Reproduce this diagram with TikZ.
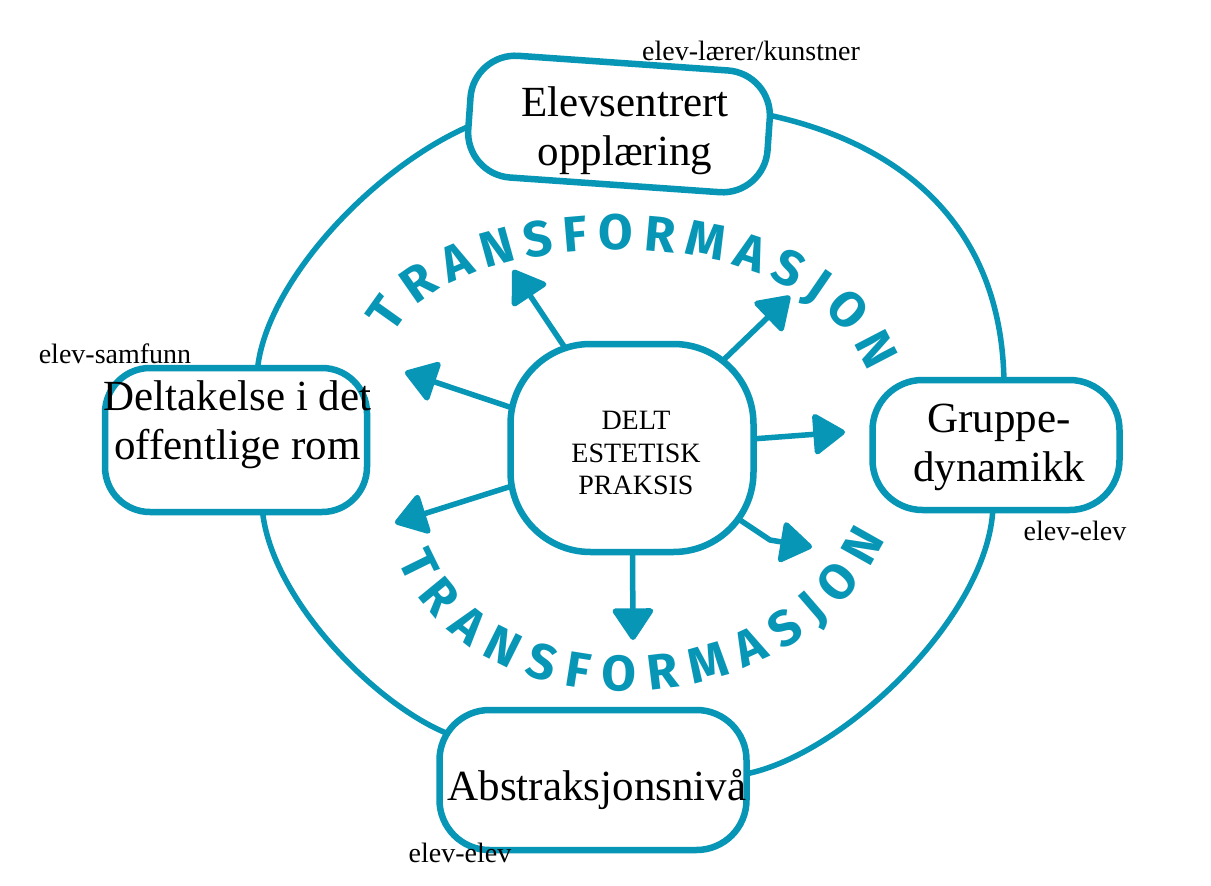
\documentclass[tikz,border=0pt]{standalone}
\usepackage{fontspec}
\setmainfont{Liberation Serif}
\newfontfamily\handfont{Fira Sans}
\usetikzlibrary{arrows.meta,decorations.text}
\definecolor{marker}{RGB}{8,150,182}
\pgfdeclarelayer{background}
\pgfdeclarelayer{paper}
\pgfsetlayers{paper,background,main}
\begin{document}
\begin{tikzpicture}[x=1pt,y=-1pt,
  box/.style={draw=marker, line width=6.5pt, fill=white, rounded corners=45pt, inner sep=0pt},
  bigtxt/.style={font=\fontsize{43}{49}\selectfont, align=center, inner sep=0pt},
  midtxt/.style={font=\fontsize{28}{32.5}\selectfont, align=center, inner sep=0pt},
  lbl/.style={font=\fontsize{28}{32}\selectfont, inner sep=0pt, anchor=base},
  ring/.style={draw=marker, line width=5.5pt, line cap=round},
  arr/.style={draw=marker, line width=5.5pt, line cap=round, line join=round,
    -{Triangle[length=34pt,width=44pt,round]}},
  hand/.style={decorate, decoration={text along path, text align={fit to path},
    text={|\handfont\bfseries\fontsize{50}{50}\selectfont\color{marker}|TRANSFORMASJON}}}
]
\useasboundingbox (0,0) rectangle (1211,886);
\begin{pgfonlayer}{paper}
  \fill[white] (0,0) rectangle (1211,886);
\end{pgfonlayer}

% outer stations
\node[box, minimum width=300pt, minimum height=122pt, rotate=-4] (top) at (619,124) {};
\node[box, minimum width=262pt, minimum height=144pt] (left) at (236,440) {};
\node[box, minimum width=247pt, minimum height=130pt, rounded corners=50pt] (right) at (996,445) {};
\node[box, minimum width=307pt, minimum height=140pt, rounded corners=50pt] (bottom) at (593,780) {};

% centre
\node[box, minimum width=243pt, minimum height=208pt, rounded corners=80pt] (c) at (632,448) {};

% texts
\node[bigtxt] (toptxt) at (625,130.5) {Elevsentrert\\opplæring};
\node[bigtxt] (lefttxt) at (237.5,424.5) {Deltakelse i det\\offentlige rom};
\node[bigtxt] (righttxt) at (999,447.7) {Gruppe-\\dynamikk};
\node[bigtxt, anchor=base] (bottxt) at (597,800) {Abstraksjonsnivå};
\node[midtxt] (ctxt) at (636,453) {DELT\\ESTETISK\\PRAKSIS};

\node[lbl] (l1) at (751,60) {elev-lærer/kunstner};
\node[lbl] (l2) at (115,363) {elev-samfunn};
\node[lbl] (l3) at (1075,540) {elev-elev};
\node[lbl] (l4) at (460,862) {elev-elev};

% arrow tips
\coordinate (t1) at (513,270);
\coordinate (t2) at (790,296);
\coordinate (t3) at (845,432);
\coordinate (a4) at (770,540);
\coordinate (t4) at (812,547);
\coordinate (t5) at (633,640);
\coordinate (t6) at (395,523);
\coordinate (t7) at (405,372);

\begin{pgfonlayer}{background}
  % ring between the stations
  \draw[ring] ([xshift=10pt,yshift=-10pt]top.west) .. controls +(-100,40) and +(5,-90) .. ([xshift=21pt,yshift=-10pt]left.north);
  \draw[ring] ([xshift=26pt,yshift=10pt]left.south) .. controls +(5,90) and +(-75,-28) .. ([xshift=15pt,yshift=45pt]bottom.west);
  \draw[ring] ([xshift=-10pt,yshift=5pt]bottom.east) .. controls +(100,-15) and +(0,110) .. ([xshift=-3pt,yshift=10pt]right.south);
  \draw[ring] ([xshift=8pt,yshift=-10pt]right.north) .. controls +(0,-160) and +(140,28) .. ([xshift=-10pt,yshift=21pt]top.east);
  % arrows out of the centre
  \draw[arr] (c.center) -- (t1);
  \draw[arr] (c.center) -- (t2);
  \draw[arr] (c.center) -- (t3);
  \draw[arr] (c.center) -- (a4) -- (t4);
  \draw[arr] (c.center) -- (t5);
  \draw[arr] (c.center) -- (t6);
  \draw[arr] (c.center) -- (t7);
\end{pgfonlayer}

% curved lettering
\path[hand] (393,335) .. controls (445,225) and (805,205) .. (868,372);
\path[hand] (398,560) .. controls (470,738) and (790,738) .. (885,540);
\end{tikzpicture}
\end{document}
